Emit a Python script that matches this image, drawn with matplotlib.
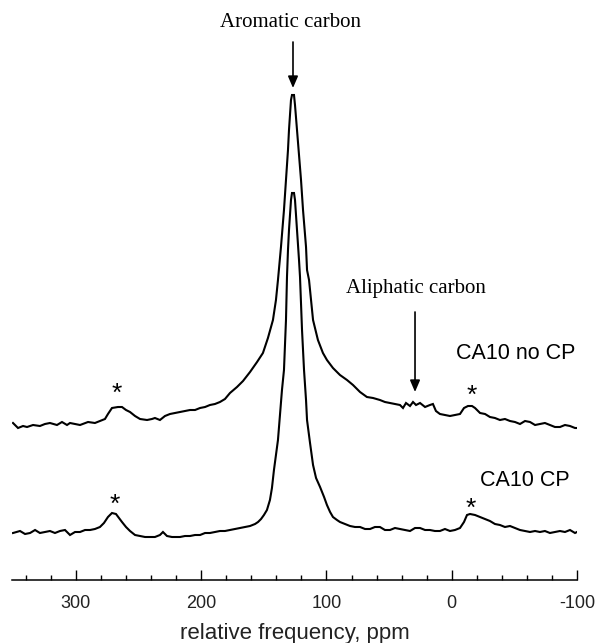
import matplotlib
matplotlib.use("Agg")
import matplotlib.pyplot as plt
import numpy as np

plt.rcParams['axes.unicode_minus'] = False

# ---- data (chemical shift in ppm, intensity in a.u.) ----
upper_ppm = [350.2, 346.2, 342.2, 339.0, 334.2, 328.7, 324.7, 320.7, 315.1, 311.1, 307.1, 304.7,
             300.7, 296.7, 290.3, 284.8, 280.8, 276.8, 274.4, 271.2, 266.4, 263.2, 260.0, 256.8,
             252.8, 248.8, 243.2, 239.3, 236.9, 232.9, 228.9, 224.9, 220.9, 216.9, 212.9, 208.9,
             204.9, 200.9, 196.9, 193.0, 189.0, 185.0, 181.0, 177.0, 171.4, 166.6, 161.0, 155.4,
             150.7, 146.7, 142.7, 140.3, 138.7, 136.3, 133.9, 132.3, 130.7, 129.9, 128.3, 127.5,
             125.9, 125.1, 123.5, 121.9, 120.3, 118.7, 116.3, 115.5, 113.9, 112.3, 110.7, 106.8,
             102.8, 99.6, 94.8, 89.2, 83.6, 78.8, 73.2, 67.7, 62.8, 57.3, 53.3, 49.3, 45.3, 41.3,
             38.9, 36.5, 33.3, 30.9, 28.5, 25.3, 21.3, 17.4, 15.0, 12.6, 9.4, 5.4, 1.4, -2.6,
             -6.6, -9.8, -13.0, -16.2, -18.6, -22.6, -26.6, -30.5, -34.5, -38.5, -42.5, -46.5,
             -50.5, -54.5, -58.5, -62.5, -66.5, -70.4, -74.4, -78.4, -82.4, -86.4, -90.4, -94.4,
             -98.4, -100.0]
upper_int = [1.2, -0.3, 0.3, 0.0, 0.6, 0.3, 0.9, 1.2, 0.6, 1.5, 0.6, 1.2,
             0.9, 0.6, 1.5, 1.2, 1.8, 2.4, 3.9, 5.7, 6.0, 6.0, 5.1, 4.5,
             3.3, 2.4, 2.1, 2.4, 2.7, 2.1, 3.3, 3.9, 4.2, 4.5, 4.8, 5.1,
             5.1, 5.7, 6.0, 6.6, 6.9, 7.5, 8.4, 10.2, 12.0, 13.8, 16.5, 19.5,
             22.2, 26.7, 32.1, 38.1, 44.1, 54.0, 65.1, 74.1, 83.1, 89.1, 98.1, 99.6,
             99.6, 96.6, 89.1, 81.6, 74.1, 65.1, 54.0, 47.1, 44.1, 38.1, 32.1, 26.1,
             22.2, 20.1, 17.7, 15.6, 14.1, 12.6, 10.5, 9.0, 8.7, 8.1, 7.5, 7.2, 6.9, 6.6,
             5.7, 7.2, 6.3, 7.5, 6.6, 7.2, 6.0, 6.6, 6.9, 4.8, 3.9, 3.6, 3.3, 3.6,
             3.9, 5.7, 6.3, 6.3, 5.7, 4.2, 3.9, 3.0, 2.7, 2.1, 2.4, 1.8,
             1.5, 0.9, 1.8, 1.5, 0.6, 0.9, 1.2, 0.6, 0.0, 0.0, 0.6, 0.3,
             -0.3, -0.3]

lower_ppm = [350.2, 344.6, 340.6, 336.6, 332.6, 328.7, 324.7, 320.7, 316.7, 312.7, 308.7, 304.7,
             300.7, 296.7, 292.7, 288.7, 284.8, 280.8, 277.6, 274.4, 271.2, 268.0, 265.6, 263.2,
             260.0, 256.8, 252.8, 248.8, 244.8, 240.8, 236.9, 232.9, 230.5, 227.3, 223.3, 216.9,
             212.9, 208.9, 204.9, 200.9, 196.9, 193.0, 189.0, 185.0, 181.0, 177.0, 173.0, 169.0,
             165.0, 161.0, 157.0, 154.6, 152.2, 149.9, 147.5, 145.1, 143.5, 141.9, 140.3, 138.7,
             137.1, 135.5, 133.9, 132.3, 131.5, 130.7, 129.9, 128.3, 127.5, 125.9, 125.1, 123.5,
             121.9, 121.1, 119.5, 117.9, 116.3, 115.5, 113.1, 110.7, 108.3, 105.1, 101.9, 99.6,
             97.1, 94.8, 91.6, 89.2, 85.2, 81.2, 77.2, 73.2, 69.2, 65.2, 61.3, 57.3, 53.3, 49.3,
             45.3, 41.3, 37.3, 33.3, 29.3, 25.3, 21.3, 17.4, 13.4, 9.4, 5.4, 1.4, -2.6, -6.6,
             -9.8, -12.2, -14.6, -18.6, -22.6, -26.6, -30.5, -34.5, -38.5, -42.5, -46.5, -50.5,
             -54.5, -58.5, -62.5, -66.5, -70.4, -74.4, -78.4, -82.4, -86.4, -90.4, -94.4, -98.4,
             -100.0]
lower_int = [0.0, 0.6, -0.3, 0.0, 0.9, 0.0, 0.3, 0.6, 0.0, 0.6, 0.9, -0.6,
             0.3, 0.3, 0.9, 0.9, 1.2, 1.8, 3.0, 4.8, 6.0, 5.7, 4.5, 3.3,
             1.8, 0.6, -0.6, -0.9, -1.2, -1.2, -1.2, -0.6, 0.3, -0.9, -1.2, -1.2,
             -0.9, -0.9, -0.6, -0.6, 0.0, 0.0, 0.3, 0.6, 0.6, 0.9, 1.2, 1.5,
             1.8, 2.1, 2.7, 3.3, 4.2, 5.4, 6.9, 9.9, 13.5, 18.9, 23.4, 27.9,
             35.4, 42.9, 48.9, 63.9, 76.8, 84.9, 90.9, 99.9, 102.0, 102.0, 99.9, 90.9,
             81.9, 76.8, 60.9, 48.9, 39.9, 33.9, 27.0, 20.4, 16.5, 13.8, 10.8, 8.4,
             6.3, 4.8, 3.9, 3.3, 2.7, 2.1, 1.8, 1.8, 1.2, 1.2, 1.8, 1.8, 0.9, 0.9,
             1.5, 1.2, 0.9, 0.6, 1.5, 1.5, 0.9, 0.9, 0.6, 0.6, 1.2, 0.6, 0.9, 1.5,
             3.3, 5.4, 5.7, 5.4, 4.8, 4.2, 3.6, 2.7, 2.4, 1.8, 2.1, 1.5,
             0.9, 0.6, 0.3, 0.6, 0.3, 0.6, 0.0, 0.3, 0.6, 0.3, 0.9, 0.0,
             0.3]

series_labels = ["CA10 no CP", "CA10 CP"]
tick_values = [300, 200, 100, 0, -100]
tick_labels = ["300", "200", "100", "0", "-100"]
xlabel = "relative frequency, ppm"

# ---- layout ----
W, H = 597, 643
fig = plt.figure(figsize=(W / 100, H / 100), dpi=100)
ax = fig.add_axes([12 / W, 1 - 580 / H, 565 / W, 580 / H])

upper_off = 45.9
lower_off = 14.1

ax.plot(upper_ppm, np.array(upper_int) + upper_off, color='black', lw=1.5, solid_joinstyle='miter')
ax.plot(lower_ppm, np.array(lower_int) + lower_off, color='black', lw=1.5, solid_joinstyle='miter')

ax.set_xlim(351, -100)
ax.set_ylim(0, 174)

for s in ['top', 'right', 'left']:
    ax.spines[s].set_visible(False)
ax.spines['bottom'].set_linewidth(1.1)
ax.set_yticks([])
ax.set_xticks(tick_values)
ax.set_xticklabels(tick_labels, fontsize=13, family='Liberation Sans', color='#222222')
ax.set_xticks(np.arange(340, -101, -20), minor=True)
ax.tick_params(axis='x', which='major', direction='in', length=7.2, width=1.0, pad=10.5)
ax.tick_params(axis='x', which='minor', direction='in', length=3.6, width=1.0)
ax.set_xlabel(xlabel, fontsize=16, family='Liberation Sans', color='#222222', labelpad=8)

serif = 'Liberation Serif'
sans = 'Liberation Sans'

ax.text(128.3, 165.9, "Aromatic carbon", family=serif, fontsize=15, ha='center', va='baseline')
ax.annotate('', xy=(126.7, 147.6), xytext=(126.7, 161.4),
            arrowprops=dict(arrowstyle='-|>,head_length=0.7,head_width=0.3', color='black',
                            lw=1.2, shrinkA=0, shrinkB=0, mutation_scale=10))

ax.text(28.5, 86.1, "Aliphatic carbon", family=serif, fontsize=15, ha='center', va='baseline')
ax.annotate('', xy=(29.3, 56.4), xytext=(29.3, 80.4),
            arrowprops=dict(arrowstyle='-|>,head_length=0.7,head_width=0.3', color='black',
                            lw=1.2, shrinkA=0, shrinkB=0, mutation_scale=10))

ax.text(-50.9, 66.3, series_labels[0], family=sans, fontsize=15.5, ha='center', va='baseline')
ax.text(-58.5, 28.2, series_labels[1], family=sans, fontsize=15.5, ha='center', va='baseline')

for (px, py) in [(267.2, 53.7), (268.8, 20.4), (-16.2, 53.1), (-15.4, 19.2)]:
    ax.text(px, py, "*", family=sans, fontsize=19, ha='center', va='baseline')

fig.savefig("out.png", dpi=100)
